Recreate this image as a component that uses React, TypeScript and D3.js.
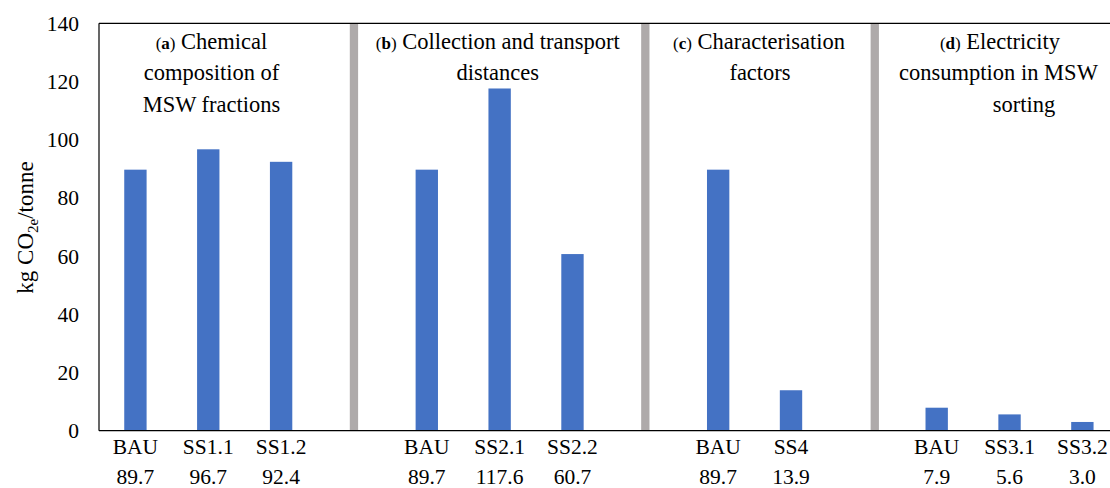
import React from "react";
import * as d3 from "d3";

const categories = ["BAU", "SS1.1", "SS1.2", "", "BAU", "SS2.1", "SS2.2", "", "BAU", "SS4", "", "BAU", "SS3.1", "SS3.2"];
const values: (number | null)[] = [89.7, 96.7, 92.4, null, 89.7, 117.6, 60.7, null, 89.7, 13.9, null, 7.9, 5.6, 3.0];
const yTicks = [0, 20, 40, 60, 80, 100, 120, 140];
// separators placed after these slot indices (slot centre + offset in slots)
const separatorSlots = [3, 7, 10.15];

const panelTitles = [
  { tag: "a", lines: ["Chemical", "composition of", "MSW fractions"], centers: [211.5, 211.5, 211.5] },
  { tag: "b", lines: ["Collection and transport", "distances"], centers: [497.7, 497.7] },
  { tag: "c", lines: ["Characterisation", "factors"], centers: [759, 760] },
  { tag: "d", lines: ["Electricity", "consumption in MSW", "sorting"], centers: [1000, 998.5, 1024] },
];

const W = 1110;
const H = 488;
const left = 99;
const right = 1118.8;
const top = 23.3;
const bottom = 430.7;
const font = "Liberation Serif, DejaVu Serif, Times New Roman, serif";
const blue = "#4472C4";
const grey = "#AEAAAA";
const tStyle = { fontFamily: font };

export default function App() {
  const x = d3.scaleBand<number>().domain(categories.map((_, i) => i)).range([left, right]).paddingInner(0).paddingOuter(0);
  const y = d3.scaleLinear().domain([0, 140]).range([bottom, top]);
  const bw = x.bandwidth();
  const barW = bw * 0.307;
  const slotCenter = (s: number) => left + (s + 0.5) * bw;

  return (
    <svg width={W} height={H} style={{ position: "absolute", left: 0, top: 0, display: "block", background: "#fff", fontFamily: font }}>
      {/* separators */}
      {separatorSlots.map((s, i) => (
        <rect key={"sep" + i} x={slotCenter(s) - 4.15} y={top + 0.5} width={8.3} height={bottom - top - 1} fill={grey} />
      ))}
      {/* bars */}
      {values.map((v, i) =>
        v == null ? null : (
          <rect key={"b" + i} x={(x(i) as number) + bw / 2 - barW / 2} y={y(v)} width={barW} height={bottom - y(v)} fill={blue} />
        )
      )}
      {/* frame lines */}
      <line x1={left} x2={W} y1={top} y2={top} stroke="#000" strokeWidth={1.2} />
      <line x1={left} x2={left} y1={top} y2={bottom} stroke="#000" strokeWidth={1.2} />
      <line x1={left} x2={W} y1={bottom} y2={bottom} stroke="#000" strokeWidth={1.2} />
      {/* y ticks */}
      {yTicks.map((t) => (
        <text key={"yt" + t} style={tStyle} x={79} y={y(t)} dy="0.35em" textAnchor="end" fontSize={21.5} fill="#000">
          {t}
        </text>
      ))}
      {/* y label */}
      <text style={tStyle} transform={`translate(33,227.5) rotate(-90)`} textAnchor="middle" fontSize={23} fill="#000">
        kg CO
        <tspan fontSize={15} dy={5}>2e</tspan>
        <tspan dy={-5}>/tonne</tspan>
      </text>
      {/* category labels */}
      {categories.map((c, i) =>
        c ? (
          <text key={"c" + i} style={tStyle} x={(x(i) as number) + bw / 2} y={454.3} textAnchor="middle" fontSize={21.5} fill="#000">
            {c}
          </text>
        ) : null
      )}
      {/* value labels */}
      {values.map((v, i) =>
        v == null ? null : (
          <text key={"v" + i} style={tStyle} x={(x(i) as number) + bw / 2} y={484} textAnchor="middle" fontSize={21.5} fill="#000">
            {v.toFixed(1)}
          </text>
        )
      )}
      {/* panel titles */}
      {panelTitles.map((p) =>
        p.lines.map((ln, j) => (
          <text key={p.tag + j} style={tStyle} x={p.centers[j]} y={48.5 + j * 31.7} textAnchor="middle" fontSize={22.5} fill="#000">
            {j === 0 ? (
              <>
                <tspan fontSize={17}>(</tspan>
                <tspan fontSize={17} fontWeight="bold">{p.tag}</tspan>
                <tspan fontSize={17}>)</tspan>
                <tspan> {ln}</tspan>
              </>
            ) : (
              ln
            )}
          </text>
        ))
      )}
    </svg>
  );
}
